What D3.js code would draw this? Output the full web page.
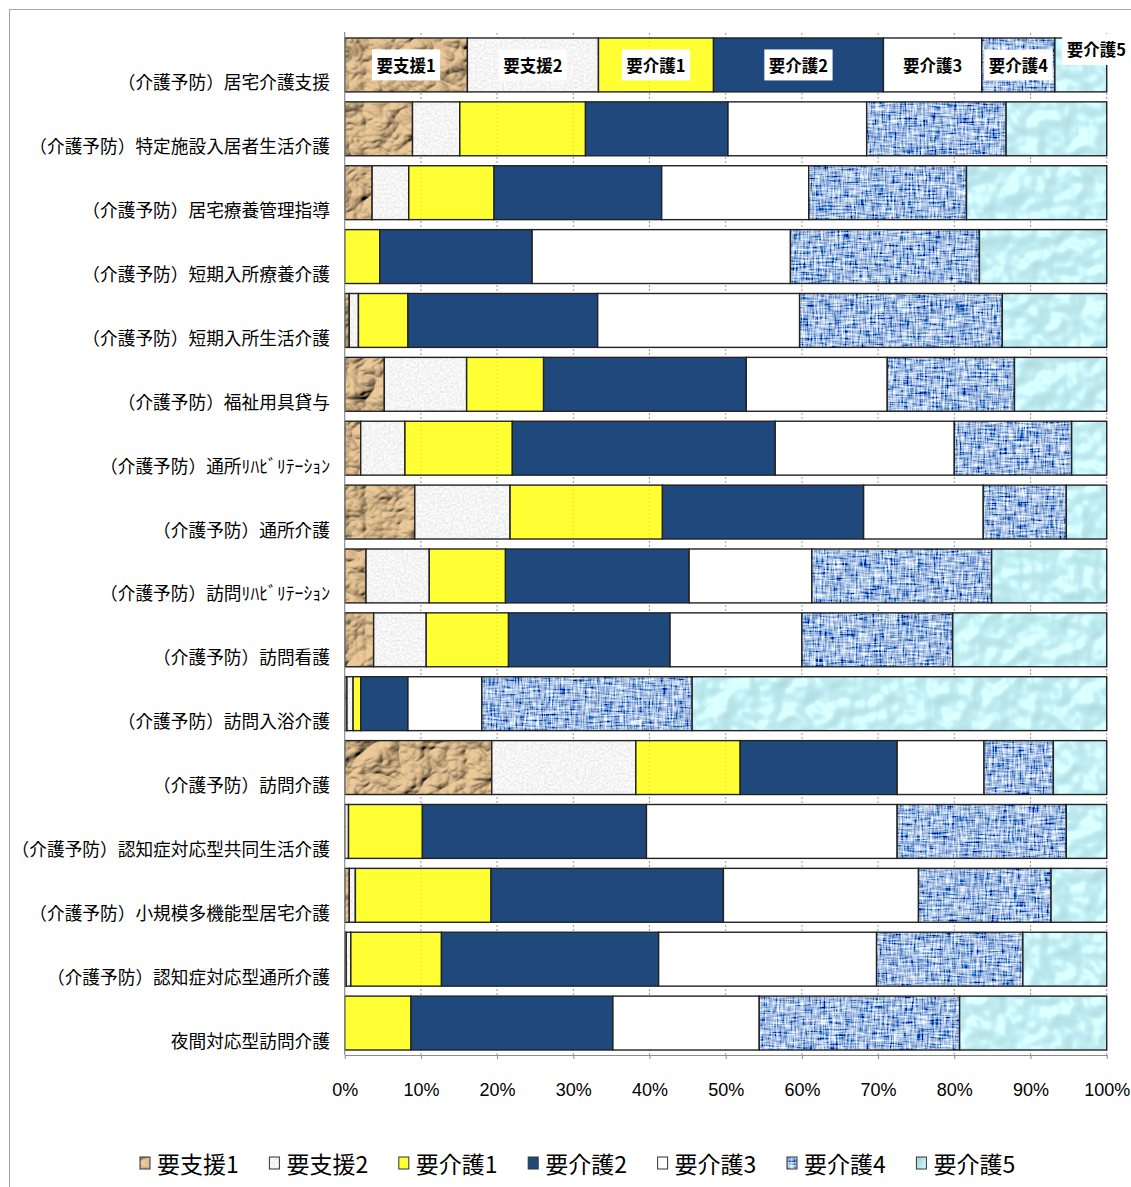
<!DOCTYPE html>
<html>
<head>
<meta charset="utf-8">
<script src="https://cdn.jsdelivr.net/npm/d3@7"></script>
<style>
  html, body { margin: 0; padding: 0; background: #fff; }
  svg { display: block; }
</style>
</head>
<body>
<svg id="chart" width="1131" height="1187"></svg>
<script>
// ---- data ---------------------------------------------------------------
const categories = [
  "（介護予防）居宅介護支援",
  "（介護予防）特定施設入居者生活介護",
  "（介護予防）居宅療養管理指導",
  "（介護予防）短期入所療養介護",
  "（介護予防）短期入所生活介護",
  "（介護予防）福祉用具貸与",
  "（介護予防）通所ﾘﾊﾋﾞﾘﾃｰｼｮﾝ",
  "（介護予防）通所介護",
  "（介護予防）訪問ﾘﾊﾋﾞﾘﾃｰｼｮﾝ",
  "（介護予防）訪問看護",
  "（介護予防）訪問入浴介護",
  "（介護予防）訪問介護",
  "（介護予防）認知症対応型共同生活介護",
  "（介護予防）小規模多機能型居宅介護",
  "（介護予防）認知症対応型通所介護",
  "夜間対応型訪問介護"
];

const seriesNames = ["要支援1", "要支援2", "要介護1", "要介護2", "要介護3", "要介護4", "要介護5"];

// share of users by care level (%), one value per category
const shien1 = [16.1,  8.9,  3.6,  0.0,  0.6,  5.2,  2.1,  9.2,  2.8,  3.8,  0.3, 19.3,  0.0,  0.6,  0.2,  0.0];
const shien2 = [17.2,  6.2,  4.8,  0.0,  1.2, 10.8,  5.8, 12.5,  8.3,  6.9,  0.8, 18.9,  0.5,  0.8,  0.6,  0.0];
const kaigo1 = [15.1, 16.5, 11.2,  4.6,  6.5, 10.1, 14.1, 20.0, 10.0, 10.8,  1.0, 13.7,  9.7, 17.8, 11.9,  8.7];
const kaigo2 = [22.3, 18.7, 22.0, 20.0, 24.9, 26.6, 34.5, 26.4, 24.1, 21.2,  6.2, 20.6, 29.4, 30.5, 28.5, 26.5];
const kaigo3 = [12.9, 18.2, 19.3, 33.9, 26.5, 18.5, 23.5, 15.7, 16.1, 17.3,  9.7, 11.4, 32.9, 25.6, 28.6, 19.2];
const kaigo4 = [ 9.6, 18.3, 20.7, 24.8, 26.6, 16.7, 15.4, 10.9, 23.6, 19.8, 27.6,  9.1, 22.2, 17.4, 19.2, 26.3];
const kaigo5 = [ 6.8, 13.2, 18.4, 16.7, 13.7, 12.1,  4.6,  5.3, 15.1, 20.2, 54.4,  7.0,  5.3,  7.3, 11.0, 19.3];

const tickLabels = ["0%", "10%", "20%", "30%", "40%", "50%", "60%", "70%", "80%", "90%", "100%"];

// ---- appearance ---------------------------------------------------------
const seriesStyle = [
  { fill: "#c9a173", filter: "tex-paper" },
  { fill: "#eeeeee", filter: "tex-granite" },
  { fill: "#ffff00", opacity: 0.8 },
  { fill: "#1f497d" },
  { fill: "#ffffff" },
  { fill: "#5b7fc0", filter: "tex-denim" },
  { fill: "#a6dde6", filter: "tex-water" }
];

const jpFont = "'Noto Sans CJK JP', 'Noto Sans', sans-serif";
const numFont = "'Liberation Sans Narrow', 'Liberation Sans', Arial, sans-serif";

const svg = d3.select("#chart");

// ---- texture filters ----------------------------------------------------
const defs = svg.append("defs");

// crumpled kraft paper
defs.append("filter").attr("id", "tex-paper")
  .html(`
    <feTurbulence type="turbulence" baseFrequency="0.03 0.04" numOctaves="3" seed="4" result="n"/>
    <feDiffuseLighting in="n" surfaceScale="7" diffuseConstant="1" lighting-color="#eecb9a" result="l">
      <feDistantLight azimuth="225" elevation="52"/>
    </feDiffuseLighting>
    <feComposite in="l" in2="SourceGraphic" operator="in"/>`);

// light speckled stone
defs.append("filter").attr("id", "tex-granite")
  .html(`
    <feTurbulence type="fractalNoise" baseFrequency="0.45" numOctaves="3" seed="11" result="n"/>
    <feColorMatrix in="n" type="matrix" values="
      0.38 0 0 0 0.72
      0.38 0 0 0 0.72
      0.38 0 0 0 0.72
      0 0 0 0 1" result="g"/>
    <feComposite in="g" in2="SourceGraphic" operator="in"/>`);

// woven denim
defs.append("filter").attr("id", "tex-denim")
  .html(`
    <feTurbulence type="fractalNoise" baseFrequency="0.55 0.07" numOctaves="2" seed="2" result="a"/>
    <feTurbulence type="fractalNoise" baseFrequency="0.07 0.55" numOctaves="2" seed="7" result="b"/>
    <feComposite in="a" in2="b" operator="arithmetic" k2="0.5" k3="0.5" result="c"/>
    <feColorMatrix in="c" type="matrix" values="
      2.5 0 0 0 -0.88
      2.4 0 0 0 -0.70
      1.6 0 0 0 -0.05
      0 0 0 0 1" result="d"/>
    <feComposite in="d" in2="SourceGraphic" operator="in"/>`);

// water droplets
defs.append("filter").attr("id", "tex-water")
  .html(`
    <feTurbulence type="fractalNoise" baseFrequency="0.045" numOctaves="2" seed="9" result="n"/>
    <feSpecularLighting in="n" surfaceScale="6" specularConstant="0.7" specularExponent="22" lighting-color="#ffffff" result="s">
      <feDistantLight azimuth="235" elevation="50"/>
    </feSpecularLighting>
    <feDiffuseLighting in="n" surfaceScale="3" diffuseConstant="1" lighting-color="#c4f3f8" result="d">
      <feDistantLight azimuth="235" elevation="70"/>
    </feDiffuseLighting>
    <feComposite in="s" in2="d" operator="arithmetic" k2="0.3" k3="1" result="m"/>
    <feComposite in="m" in2="SourceGraphic" operator="in"/>`);

// ---- frame --------------------------------------------------------------
svg.append("rect")
  .attr("x", 9.5).attr("y", 9.5)
  .attr("width", 1160).attr("height", 1220)
  .attr("fill", "none").attr("stroke", "#a6a6a6").attr("stroke-width", 1);

// ---- scales -------------------------------------------------------------
const plot = { left: 344.7, right: 1106.7, top: 33, bottom: 1055 };

const x = d3.scaleLinear().domain([0, 100]).range([plot.left, plot.right]);
const y = d3.scaleBand()
  .domain(categories)
  .range([plot.top, plot.bottom])
  .paddingInner(10 / 64)
  .paddingOuter(5 / 64);

const tickValues = tickLabels.map(t => parseFloat(t));

// ---- gridlines ----------------------------------------------------------
svg.append("g")
  .selectAll("line")
  .data(tickValues.slice(1))
  .join("line")
  .attr("x1", d => x(d)).attr("x2", d => x(d))
  .attr("y1", plot.top).attr("y2", plot.bottom)
  .attr("stroke", "#9a9a9a")
  .attr("stroke-width", 1)
  .attr("stroke-dasharray", "2,2");

// ---- stacked bars -------------------------------------------------------
const seriesValues = [shien1, shien2, kaigo1, kaigo2, kaigo3, kaigo4, kaigo5];
const table = categories.map((c, i) => {
  const row = { category: c };
  seriesNames.forEach((s, k) => { row[s] = seriesValues[k][i]; });
  return row;
});
const stacked = d3.stack().keys(seriesNames)(table);

const barLayer = svg.append("g");
stacked.forEach((layer, k) => {
  const st = seriesStyle[k];
  const segs = layer.filter(d => d[1] - d[0] > 0);
  const g = barLayer.append("g");
  g.selectAll("rect.fill")
    .data(segs)
    .join("rect")
    .attr("class", "fill")
    .attr("x", d => x(d[0]))
    .attr("y", d => y(d.data.category))
    .attr("width", d => x(d[1]) - x(d[0]))
    .attr("height", y.bandwidth())
    .attr("fill", st.fill)
    .attr("fill-opacity", st.opacity || 1)
    .attr("filter", st.filter ? `url(#${st.filter})` : null);
  g.selectAll("rect.edge")
    .data(segs)
    .join("rect")
    .attr("class", "edge")
    .attr("x", d => x(d[0]))
    .attr("y", d => y(d.data.category))
    .attr("width", d => x(d[1]) - x(d[0]))
    .attr("height", y.bandwidth())
    .attr("fill", "none")
    .attr("stroke", "#222")
    .attr("stroke-width", 1.4);
});

// ---- axes ---------------------------------------------------------------
svg.append("line")
  .attr("x1", plot.left).attr("x2", plot.left)
  .attr("y1", plot.top - 1).attr("y2", plot.bottom)
  .attr("stroke", "#8c8c8c").attr("stroke-width", 1.2);

const xAxis = svg.append("g")
  .attr("transform", `translate(0,${plot.bottom})`)
  .call(d3.axisBottom(x)
    .tickValues(tickValues)
    .tickFormat((d, i) => tickLabels[i])
    .tickSize(4)
    .tickSizeOuter(0));
xAxis.select(".domain").attr("stroke", "#8c8c8c");
xAxis.selectAll(".tick line").attr("stroke", "#8c8c8c");
xAxis.selectAll(".tick text")
  .attr("y", 35)
  .attr("dy", "0.35em")
  .attr("fill", "#000")
  .style("font-family", numFont)
  .style("font-size", "18px");

// ---- category labels ----------------------------------------------------
svg.append("g")
  .selectAll("text")
  .data(categories)
  .join("text")
  .attr("x", 330)
  .attr("y", d => y(d) + y.bandwidth() / 2 + 16.5)
  .attr("text-anchor", "end")
  .attr("dominant-baseline", "central")
  .style("font-family", jpFont)
  .style("font-size", "17.7px")
  .attr("fill", "#000")
  .text(d => d);

// ---- series name labels on the first bar -------------------------------
const labelShift = { "要介護5": { dx: 15.5, dy: -15.5 } };
const labelLayer = svg.append("g");
stacked.forEach((layer, k) => {
  const d = layer[0];
  if (d[1] - d[0] <= 0) return;
  const name = seriesNames[k];
  const shift = labelShift[name] || { dx: 0, dy: 0 };
  const cx = (x(d[0]) + x(d[1])) / 2 + shift.dx;
  const cy = y(d.data.category) + y.bandwidth() / 2 + shift.dy;
  const g = labelLayer.append("g");
  const bg = g.append("rect").attr("fill", "#fff");
  const t = g.append("text")
    .attr("x", cx).attr("y", cy)
    .attr("text-anchor", "middle")
    .attr("dominant-baseline", "central")
    .style("font-family", jpFont)
    .style("font-weight", "700")
    .style("font-size", "16.5px")
    .attr("fill", "#000")
    .text(name);
  const bb = t.node().getBBox();
  bg.attr("x", bb.x - 4.5).attr("y", cy - 15.5)
    .attr("width", bb.width + 9).attr("height", 31);
});

// ---- legend -------------------------------------------------------------
const legendX = d3.scaleBand()
  .domain(seriesNames)
  .range([140, 140 + 7 * 129.4]);
const legendY = 1163;
const legend = svg.append("g")
  .selectAll("g")
  .data(seriesNames)
  .join("g")
  .attr("transform", d => `translate(${legendX(d)},${legendY})`);
legend.append("rect")
  .attr("x", 0).attr("y", -6)
  .attr("width", 10).attr("height", 12)
  .attr("fill", (d, i) => seriesStyle[i].fill)
  .attr("fill-opacity", (d, i) => seriesStyle[i].opacity || 1)
  .attr("filter", (d, i) => seriesStyle[i].filter ? `url(#${seriesStyle[i].filter})` : null);
legend.append("rect")
  .attr("x", 0).attr("y", -6)
  .attr("width", 10).attr("height", 12)
  .attr("fill", "none")
  .attr("stroke", "#333")
  .attr("stroke-width", 1);
legend.append("text")
  .attr("x", 17)
  .attr("y", 0)
  .attr("dominant-baseline", "central")
  .style("font-family", jpFont)
  .style("font-size", "23px")
  .attr("fill", "#000")
  .text(d => d);
</script>
</body>
</html>
